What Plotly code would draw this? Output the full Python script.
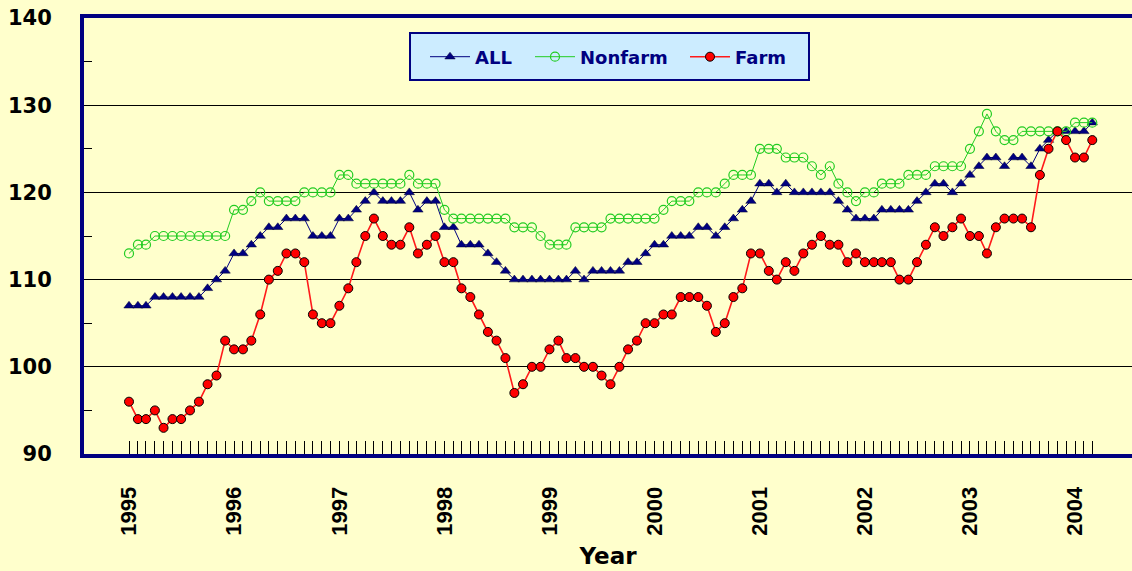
import plotly.graph_objects as go
import pandas as pd

# ---- data ----
months = pd.date_range("1995-01-01", periods=111, freq="MS")   # Jan 1995 .. Mar 2004
year_ticks = pd.date_range("1995-01-01", periods=10, freq="12MS")
year_labels = ["1995", "1996", "1997", "1998", "1999", "2000", "2001", "2002", "2003", "2004"]

all_vals = [
    107, 107, 107, 108, 108, 108, 108, 108, 108, 109, 110, 111,   # 1995
    113, 113, 114, 115, 116, 116, 117, 117, 117, 115, 115, 115,   # 1996
    117, 117, 118, 119, 120, 119, 119, 119, 120, 118, 119, 119,   # 1997
    116, 116, 114, 114, 114, 113, 112, 111, 110, 110, 110, 110,   # 1998
    110, 110, 110, 111, 110, 111, 111, 111, 111, 112, 112, 113,   # 1999
    114, 114, 115, 115, 115, 116, 116, 115, 116, 117, 118, 119,   # 2000
    121, 121, 120, 121, 120, 120, 120, 120, 120, 119, 118, 117,   # 2001
    117, 117, 118, 118, 118, 118, 119, 120, 121, 121, 120, 121,   # 2002
    122, 123, 124, 124, 123, 124, 124, 123, 125, 126, 127, 127,   # 2003
    127, 127, 128,                                                # 2004
]
nonfarm_vals = [
    113, 114, 114, 115, 115, 115, 115, 115, 115, 115, 115, 115,
    118, 118, 119, 120, 119, 119, 119, 119, 120, 120, 120, 120,
    122, 122, 121, 121, 121, 121, 121, 121, 122, 121, 121, 121,
    118, 117, 117, 117, 117, 117, 117, 117, 116, 116, 116, 115,
    114, 114, 114, 116, 116, 116, 116, 117, 117, 117, 117, 117,
    117, 118, 119, 119, 119, 120, 120, 120, 121, 122, 122, 122,
    125, 125, 125, 124, 124, 124, 123, 122, 123, 121, 120, 119,
    120, 120, 121, 121, 121, 122, 122, 122, 123, 123, 123, 123,
    125, 127, 129, 127, 126, 126, 127, 127, 127, 127, 127, 127,
    128, 128, 128,
]
farm_vals = [
    96, 94, 94, 95, 93, 94, 94, 95, 96, 98, 99, 103,
    102, 102, 103, 106, 110, 111, 113, 113, 112, 106, 105, 105,
    107, 109, 112, 115, 117, 115, 114, 114, 116, 113, 114, 115,
    112, 112, 109, 108, 106, 104, 103, 101, 97, 98, 100, 100,
    102, 103, 101, 101, 100, 100, 99, 98, 100, 102, 103, 105,
    105, 106, 106, 108, 108, 108, 107, 104, 105, 108, 109, 113,
    113, 111, 110, 112, 111, 113, 114, 115, 114, 114, 112, 113,
    112, 112, 112, 112, 110, 110, 112, 114, 116, 115, 116, 117,
    115, 115, 113, 116, 117, 117, 117, 116, 122, 125, 127, 126,
    124, 124, 126,
]
assert len(all_vals) == len(nonfarm_vals) == len(farm_vals) == len(months)

BG = "#FFFFCC"
NAVY = "#000080"

fig = go.Figure()
fig.add_trace(go.Scatter(
    x=months, y=all_vals, name="ALL", mode="lines+markers", legend="legend",
    line=dict(color=NAVY, width=1),
    marker=dict(symbol="triangle-up", size=9, color=NAVY, line=dict(color="#000033", width=0.5)),
))
fig.add_trace(go.Scatter(
    x=months, y=nonfarm_vals, name="Nonfarm", mode="lines+markers", legend="legend2",
    line=dict(color="#22CC22", width=1),
    marker=dict(symbol="circle-open", size=9, color="#22CC22", line=dict(width=1.2)),
))
fig.add_trace(go.Scatter(
    x=months, y=farm_vals, name="Farm", mode="lines+markers", legend="legend3",
    line=dict(color="#FF1A1A", width=1.6),
    marker=dict(symbol="circle", size=9, color="#FF0000", line=dict(color="#000000", width=1)),
))

# plot-area geometry (px) used to place x range
W, H = 1132, 571
ML, MR, MT, MB = 84, 0, 18, 117
ppd = 8.76 * 12 / 365.25
t0 = months[0]
x_left = t0 - pd.Timedelta(days=(129 - ML) / ppd)
x_right = t0 + pd.Timedelta(days=(W - MR - 129) / ppd)

def px_x(p):
    return (p - ML) / (W - ML - MR)

def px_y(p):
    return (H - MB - p) / (H - MB - MT)

legend_font = dict(family="DejaVu Sans", size=18, color=NAVY, weight="bold")
common_leg = dict(orientation="h", bgcolor="rgba(0,0,0,0)", borderwidth=0, itemwidth=40,
                  font=legend_font, xanchor="left", yanchor="middle", y=px_y(57))

fig.update_layout(
    width=W, height=H,
    margin=dict(l=ML, r=MR, t=MT, b=MB, autoexpand=False),
    paper_bgcolor=BG, plot_bgcolor=BG,
    showlegend=True,
    legend=dict(common_leg, x=px_x(425)),
    legend2=dict(common_leg, x=px_x(530)),
    legend3=dict(common_leg, x=px_x(685)),
    shapes=[dict(type="rect", xref="paper", yref="paper",
                 x0=px_x(410), x1=px_x(809), y0=px_y(80), y1=px_y(33),
                 fillcolor="#CCECFF", line=dict(color=NAVY, width=2), layer="above")],
    xaxis=dict(
        type="date", range=[x_left, x_right],
        tickmode="array", tickvals=year_ticks, ticktext=year_labels,
        tickangle=-90, ticks="inside", ticklen=13, tickcolor="#000000", tickwidth=1,
        minor=dict(tickmode="array", tickvals=months, ticks="inside", ticklen=13,
                   tickcolor="#000000", tickwidth=1, showgrid=False),
        showgrid=False, showline=True, linecolor=NAVY, linewidth=4, mirror=True,
        zeroline=False, ticklabelstandoff=20,
        tickfont=dict(family="Liberation Sans", size=22, color="#000000", weight="bold"),
        title=dict(text="Year", standoff=14,
                   font=dict(family="DejaVu Sans", size=23, color="#000000", weight="bold")),
    ),
    yaxis=dict(
        range=[90, 140], tickmode="linear", tick0=90, dtick=10,
        ticks="inside", ticklen=8, tickcolor="#000000", tickwidth=1,
        minor=dict(dtick=5, ticks="inside", ticklen=8, tickcolor="#000000", showgrid=False),
        showgrid=True, gridcolor="#000000", gridwidth=1,
        showline=True, linecolor=NAVY, linewidth=4, mirror=False, zeroline=False,
        ticklabelstandoff=24,
        tickfont=dict(family="DejaVu Sans", size=21, color="#000000", weight="bold"),
    ),
)

fig.write_html(
    "out.html",
    config={"displayModeBar": False},
    post_script="document.body.style.margin='0';document.body.style.background='#FFFFCC';"
                "document.documentElement.style.overflow='hidden';",
)
